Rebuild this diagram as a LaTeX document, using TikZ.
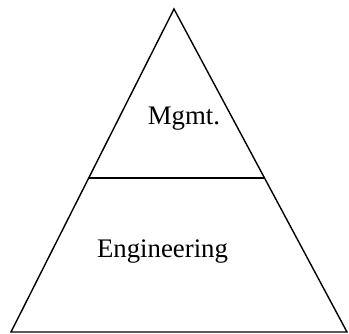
\documentclass[tikz,border=0pt]{standalone}
\usepackage{fontspec}
\setmainfont{Liberation Serif}
\usetikzlibrary{positioning, calc}

\begin{document}
\begin{tikzpicture}[x=1pt, y=1pt, Edge/.style={line width=1.4pt, line join=miter}, Label/.style={font={\fontsize{26.8}{30}\selectfont}, inner sep=0pt, anchor=base}]
\useasboundingbox (0,0) rectangle (349,333);
% corners of the pyramid
\coordinate (apex) at (174,324);
\coordinate (baseL) at (11,1);
\coordinate (baseR) at (347,1);
\draw[Edge] (baseL) -- (apex) -- (baseR) -- cycle;
% split between the two levels
\coordinate (divL) at ($(baseL)!0.477!(apex)$);
\coordinate (divR) at ($(baseR)!0.477!(apex)$);
\draw[Edge] (divL) -- (divR);
\node[Label] (mgmt) at (184,208) {Mgmt.};
\node[Label] (eng) at (162.5,76) {Engineering};
\end{tikzpicture}
\end{document}
